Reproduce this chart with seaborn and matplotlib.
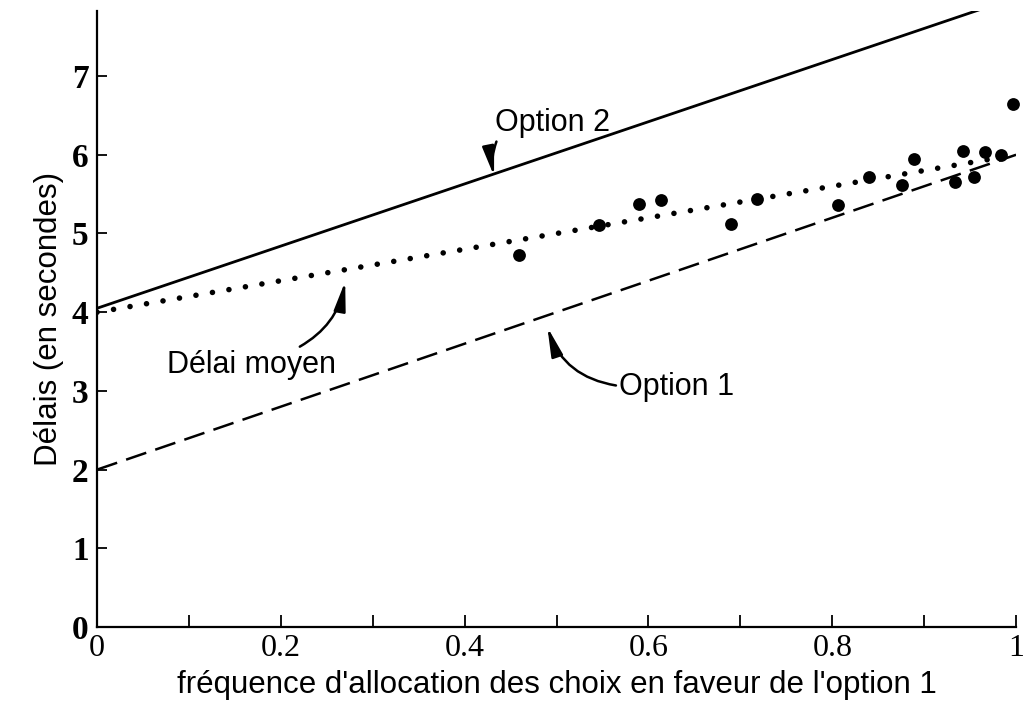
import numpy as np
import pandas as pd
import matplotlib
matplotlib.use("Agg")
import matplotlib.pyplot as plt
import seaborn as sns

# valeurs
freq = [0.0, 1.0]
option1 = [2.0, 6.0]
option2 = [4.05, 8.0]
moyen = [4.0, 6.0]

freq_pts = [0.459, 0.546, 0.590, 0.614, 0.690, 0.718, 0.806, 0.840,
            0.876, 0.889, 0.934, 0.942, 0.954, 0.966, 0.984, 0.997]
delai_pts = [4.73, 5.11, 5.38, 5.43, 5.12, 5.44, 5.36, 5.72,
             5.61, 5.95, 5.66, 6.05, 5.72, 6.04, 6.00, 6.64]

x_ticks = [0, 0.2, 0.4, 0.6, 0.8, 1]
x_labels = ["0", "0.2", "0.4", "0.6", "0.8", "1"]
y_ticks = [0, 1, 2, 3, 4, 5, 6, 7]

df_lines = pd.DataFrame({"freq": freq, "option1": option1,
                         "option2": option2, "moyen": moyen})
df_pts = pd.DataFrame({"freq": freq_pts, "delai": delai_pts})

sns.set_style("ticks")
plt.rcParams["font.family"] = ["Liberation Sans", "DejaVu Sans"]
plt.rcParams["xtick.direction"] = "in"
plt.rcParams["ytick.direction"] = "in"
for k in ["text.color", "axes.labelcolor", "xtick.color", "ytick.color",
          "axes.edgecolor"]:
    plt.rcParams[k] = "black"

fig = plt.figure(figsize=(10.28, 7.15), dpi=100)
ax = fig.add_axes([0.0944, 0.123, 0.894, 0.862])

sns.lineplot(data=df_lines, x="freq", y="option2", ax=ax, color="black",
             linewidth=2.0)
sns.lineplot(data=df_lines, x="freq", y="option1", ax=ax, color="black",
             linewidth=1.8)
ax.lines[-1].set_dashes((8.5, 3.8))
sns.lineplot(data=df_lines, x="freq", y="moyen", ax=ax, color="black",
             linewidth=4.0)
ax.lines[-1].set_dashes((0.01, 3.0))
ax.lines[-1].set_dash_capstyle("round")

sns.scatterplot(data=df_pts, x="freq", y="delai", ax=ax, color="black",
                s=85, edgecolor="black", linewidth=0, zorder=5, clip_on=False)

ax.set_xlim(0, 1)
ax.set_ylim(0, 7.83)
ax.set_xticks(x_ticks)
ax.set_xticklabels(x_labels, family="Liberation Serif", fontsize=23)
ax.set_xticks(np.arange(0.1, 1.0, 0.2), minor=True)
ax.set_yticks(y_ticks)
ax.set_yticklabels([str(v) for v in y_ticks], family="Liberation Serif",
                   fontsize=24, fontweight="bold")
ax.tick_params(axis="x", which="both", length=9, width=1.3, pad=5)
ax.tick_params(axis="y", length=7, width=1.3, pad=6)
for s in ["left", "bottom"]:
    ax.spines[s].set_linewidth(1.6)
sns.despine(ax=ax)

ax.set_xlabel("fréquence d'allocation des choix en faveur de l'option 1",
              fontsize=22.5, labelpad=5)
ax.set_ylabel("Délais (en secondes)", fontsize=22.5, labelpad=6)

arrow = dict(arrowstyle="-|>,head_length=0.8,head_width=0.16",
             color="black", linewidth=1.8, shrinkA=0, shrinkB=0)
ax.annotate("Option 2", xy=(0.432, 5.73), xytext=(0.496, 6.4),
            fontsize=22, ha="center", va="center",
            arrowprops=dict(arrow, connectionstyle="arc3,rad=0.15",
                            relpos=(0.02, 0.0)))
ax.annotate("Délai moyen", xy=(0.27, 4.39), xytext=(0.168, 3.33),
            fontsize=22, ha="center", va="center",
            arrowprops=dict(arrow, connectionstyle="arc3,rad=0.25",
                            relpos=(0.75, 1.0)))
ax.annotate("Option 1", xy=(0.49, 3.81), xytext=(0.631, 3.05),
            fontsize=22, ha="center", va="center",
            arrowprops=dict(arrow, connectionstyle="arc3,rad=-0.3",
                            relpos=(-0.03, 0.55)))

fig.savefig("out.png", dpi=100)
